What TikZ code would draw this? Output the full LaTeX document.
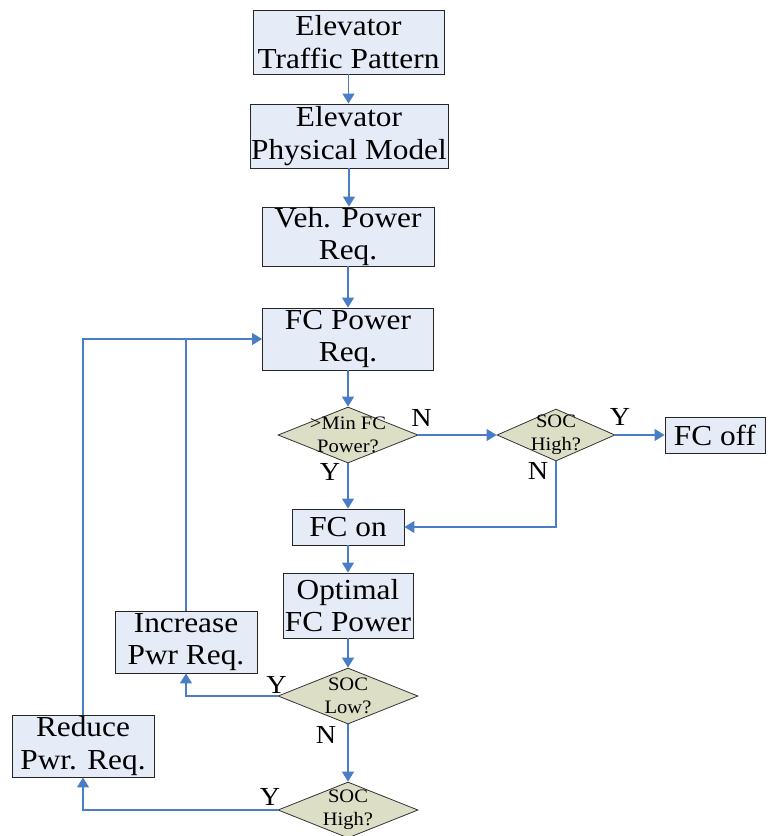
\documentclass[tikz,border=0pt]{standalone}
\usepackage{fontspec}
\setmainfont{Liberation Serif}[FakeStretch=1.08]
\usetikzlibrary{shapes.geometric,arrows.meta}
\definecolor{boxfill}{HTML}{E6ECF7}
\definecolor{diafill}{HTML}{DCDEC6}
\definecolor{flow}{HTML}{4A7EC4}
\begin{document}
\begin{tikzpicture}[x=1pt,y=1pt,
  procbox/.style={draw=black!85, line width=0.9pt, fill=boxfill, inner sep=0pt,
    align=center, font=\fontsize{29}{32.5}\selectfont},
  decision/.style={shape=diamond, draw=black!80, line width=0.8pt, fill=diafill, inner sep=0pt},
  dtext/.style={align=center, font=\fontsize{19}{23}\selectfont, inner sep=0pt},
  yn/.style={font=\fontsize{26}{26}\selectfont, inner sep=0pt},
  flowline/.style={draw=flow, line width=1.3pt},
  flowarrow/.style={flowline, -{Triangle[length=10pt,width=12pt]}}]
\clip (0,0) rectangle (769,-836);

% process boxes
\node[procbox, minimum width=191pt, minimum height=64pt] (etp) at (348.5,-42) {Elevator\\Traffic Pattern};
\node[procbox, minimum width=198pt, minimum height=64pt] (epm) at (349,-136) {Elevator\\Physical Model};
\node[procbox, minimum width=172pt, minimum height=59pt] (vpr) at (348,-236.5) {Veh. Power\\Req.};
\node[procbox, minimum width=171pt, minimum height=62pt] (fpr) at (348,-339) {FC Power\\Req.};
\node[procbox, minimum width=100pt, minimum height=36pt] (off) at (715,-435.5) {FC off};
\node[procbox, minimum width=112pt, minimum height=36pt] (on) at (348,-527) {FC on};
\node[procbox, minimum width=130pt, minimum height=65pt] (opt) at (348,-605.5) {Optimal\\FC Power};
\node[procbox, minimum width=142pt, minimum height=62pt] (inc) at (186,-642) {Increase\\Pwr Req.};
\node[procbox, minimum width=142pt, minimum height=62pt] (red) at (83,-746) {Reduce\\Pwr. Req.};

% decisions
\node[decision, minimum width=140pt, minimum height=56pt] (d1) at (348,-435) {};
\node[dtext] at (d1) {>Min FC\\Power?};
\node[decision, minimum width=118pt, minimum height=52pt] (d2) at (556,-435) {};
\node[dtext] at (d2) {SOC\\High?};
\node[decision, minimum width=140pt, minimum height=56pt] (d3) at (348,-696) {};
\node[dtext] at (d3) {SOC\\Low?};
\node[decision, minimum width=140pt, minimum height=56pt] (d4) at (348,-810) {};
\node[dtext] at (d4) {SOC\\High?};

% main column
\draw[flowarrow] (etp.south) -- (etp.south |- epm.north);
\draw[flowarrow] (epm.south) -- (epm.south |- vpr.north);
\draw[flowarrow] (vpr.south) -- (vpr.south |- fpr.north);
\draw[flowarrow] (fpr.south) -- (fpr.south |- d1.north);
\draw[flowarrow] (d1.south) -- (d1.south |- on.north);
\draw[flowarrow] (on.south) -- (on.south |- opt.north);
\draw[flowarrow] (opt.south) -- (opt.south |- d3.north);
\draw[flowarrow] (d3.south) -- (d3.south |- d4.north);

% branches
\draw[flowarrow] (d1.east) -- (d2.west);
\draw[flowarrow] (d2.east) -- (d2.east -| off.west);
\draw[flowarrow] (d2.south) -- (d2.south |- on.east) -- (on.east);
\draw[flowarrow] (d3.west) -| (inc.south);
\draw[flowarrow] (d4.west) -| (red.south);

% feedback to the FC power request
\coordinate (join) at (inc.north |- fpr.west);
\draw[flowarrow] (inc.north) -- (join) -- (fpr.west);
\draw[flowline] (red.north) |- (join);

% branch labels
\node[yn] at (421.5,-418) {N};
\node[yn] at (620,-417) {Y};
\node[yn] at (330,-472) {Y};
\node[yn] at (538,-471) {N};
\node[yn] at (276.5,-685) {Y};
\node[yn] at (326,-734.5) {N};
\node[yn] at (270,-796.5) {Y};
\end{tikzpicture}
\end{document}
